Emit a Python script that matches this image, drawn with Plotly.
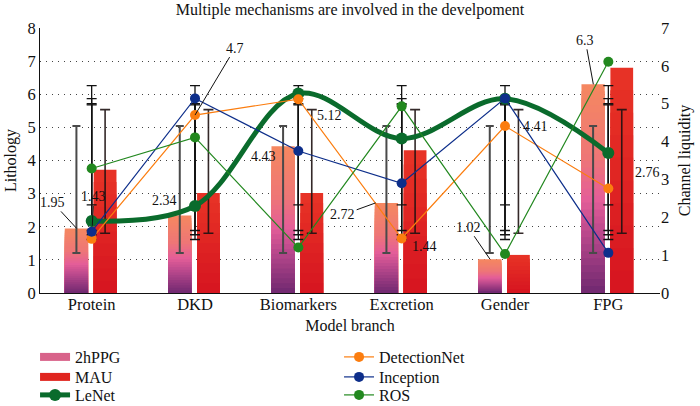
import numpy as np
import plotly.graph_objects as go

# ---------------- data ----------------
categories = ["Protein", "DKD", "Biomarkers", "Excretion", "Gender", "FPG"]
ppg2h = [1.95, 2.34, 4.43, 2.72, 1.02, 6.3]          # bars, left axis
mau = [3.72, 3.02, 3.02, 4.31, 1.15, 6.8]             # bars, left axis
lenet = [1.9, 2.3, 5.27, 4.08, 5.13, 3.7]             # right axis
detectionnet = [1.43, 4.7, 5.12, 1.44, 4.41, 2.76]    # right axis
inception = [1.62, 5.14, 3.75, 2.9, 5.14, 1.06]       # right axis
ros = [3.29, 4.11, 1.2, 4.93, 1.03, 6.11]             # right axis
left_ticks = [0, 1, 2, 3, 4, 5, 6, 7, 8]
right_ticks = [0, 1, 2, 3, 4, 5, 6, 7]

FONT = "Liberation Serif"


def mean_sd(v):
    a = np.asarray(v, dtype=float)
    return float(a.mean()), float(a.std(ddof=1))


def lerp_color(stops, t):
    for (t0, c0), (t1, c1) in zip(stops[:-1], stops[1:]):
        if t0 <= t <= t1:
            f = (t - t0) / (t1 - t0) if t1 > t0 else 0
            c = [round(c0[k] + (c1[k] - c0[k]) * f) for k in range(3)]
            return "rgb(%d,%d,%d)" % tuple(c)
    c = stops[-1][1]
    return "rgb(%d,%d,%d)" % tuple(c)


ppg_stops = [(0.0, (112, 40, 112)), (0.28, (185, 72, 140)), (0.45, (228, 94, 152)),
             (0.65, (238, 118, 118)), (1.0, (245, 136, 96))]
mau_stops = [(0.0, (214, 20, 32)), (1.0, (232, 52, 38))]

PPG_OFF, PPG_W = -0.26, 0.225
MAU_OFF, MAU_W = 0.02, 0.22

fig = go.Figure()

# gradient bars: layered from tallest (top colour) to shortest
K = 30
for j in range(K):
    frac = (K - j) / K
    fig.add_trace(go.Bar(
        x=categories, y=[v * frac for v in ppg2h], offset=PPG_OFF, width=PPG_W,
        marker=dict(color=lerp_color(ppg_stops, frac - 0.5 / K), line=dict(width=0)),
        showlegend=False, hoverinfo="skip"))
K2 = 10
for j in range(K2):
    frac = (K2 - j) / K2
    fig.add_trace(go.Bar(
        x=categories, y=[v * frac for v in mau], offset=MAU_OFF, width=MAU_W,
        marker=dict(color=lerp_color(mau_stops, frac - 0.5 / K2), line=dict(width=0)),
        showlegend=False, hoverinfo="skip"))

# error bars of the bar series (mean +/- sd, at bar centres)
m, s = mean_sd(ppg2h)
fig.add_trace(go.Bar(
    x=categories, y=[m] * len(categories), offset=PPG_OFF, width=PPG_W,
    marker=dict(color="rgba(0,0,0,0)", line=dict(width=0)),
    error_y=dict(type="data", array=[s] * len(categories), color="#4a4a4a", thickness=2, width=4),
    showlegend=False, hoverinfo="skip"))
m, s = mean_sd(mau)
fig.add_trace(go.Bar(
    x=categories, y=[m] * len(categories), offset=MAU_OFF, width=MAU_W,
    marker=dict(color="rgba(0,0,0,0)", line=dict(width=0)),
    error_y=dict(type="data", array=[s] * len(categories), color="rgba(30,18,18,0.9)", thickness=1.6, width=5),
    showlegend=False, hoverinfo="skip"))

# error bars of the line series (right axis)
for series in (lenet, detectionnet, inception, ros):
    m, s = mean_sd(series)
    fig.add_trace(go.Scatter(
        x=categories, y=[m] * len(categories), yaxis="y2", mode="markers",
        marker=dict(size=1, color="rgba(0,0,0,0)"),
        error_y=dict(type="data", array=[s] * len(categories), color="#111111", thickness=1.3, width=5),
        showlegend=False, hoverinfo="skip"))

# lines
fig.add_trace(go.Scatter(
    x=categories, y=lenet, yaxis="y2", name="LeNet", mode="lines+markers",
    line=dict(color="#0a6b2c", width=5, shape="spline", smoothing=1.0),
    marker=dict(color="#0a6b2c", size=12), legend="legend3", legendrank=1))
fig.add_trace(go.Scatter(
    x=categories, y=detectionnet, yaxis="y2", name="DetectionNet", mode="lines+markers",
    line=dict(color="#fb7d0f", width=1.2), marker=dict(color="#fb7d0f", size=10),
    legend="legend", legendrank=2))
fig.add_trace(go.Scatter(
    x=categories, y=inception, yaxis="y2", name="Inception", mode="lines+markers",
    line=dict(color="#0d2e8a", width=1.2), marker=dict(color="#0d2e8a", size=10),
    legend="legend2", legendrank=2))
fig.add_trace(go.Scatter(
    x=categories, y=ros, yaxis="y2", name="ROS", mode="lines+markers",
    line=dict(color="#22881f", width=1.2), marker=dict(color="#22881f", size=10),
    legend="legend3", legendrank=2))

# legend swatches for the bar series
fig.add_trace(go.Scatter(x=[None], y=[None], name="2hPPG", mode="lines",
                         line=dict(color="#d8638a", width=8), legend="legend", legendrank=1))
fig.add_trace(go.Scatter(x=[None], y=[None], name="MAU", mode="lines",
                         line=dict(color="#e0251f", width=8), legend="legend2", legendrank=1))

# value labels
ann = []
def add_label(text, x, y, yref, xshift=0, ax=None, ay=None, yshift=0, standoff=0):
    d = dict(x=x, y=y, xref="x", yref=yref, text=text, xshift=xshift, yshift=yshift,
             font=dict(family=FONT, size=14, color="#111111"))
    if ax is None:
        d.update(showarrow=False)
    else:
        d.update(showarrow=True, arrowhead=0, arrowwidth=1, arrowcolor="#111111",
                 ax=ax, ay=ay, standoff=standoff)
    ann.append(d)

c = categories
add_label(f"{ppg2h[0]:g}", c[0], ppg2h[0], "y", xshift=-15, ax=-24, ay=-26)
add_label(f"{ppg2h[1]:g}", c[1], ppg2h[1], "y", xshift=-31, yshift=15)
add_label(f"{ppg2h[2]:g}", c[2], ppg2h[2], "y", xshift=-35, yshift=-10)
add_label(f"{ppg2h[3]:g}", c[3], ppg2h[3], "y", xshift=-26, ax=-33, ay=12)
add_label(f"{ppg2h[4]:g}", c[4], ppg2h[4], "y", xshift=-15, ax=-22, ay=-32)
add_label(f"{ppg2h[5]:g}", c[5], ppg2h[5], "y", xshift=-15, ax=-8, ay=-44)
add_label(f"{detectionnet[0]:g}", c[0], detectionnet[0], "y2", ax=2, ay=-42, standoff=13)
add_label(f"{detectionnet[1]:g}", c[1], detectionnet[1], "y2", ax=40, ay=-67)
add_label(f"{detectionnet[2]:g}", c[2], detectionnet[2], "y2", xshift=31, yshift=-16)
add_label(f"{detectionnet[3]:g}", c[3], detectionnet[3], "y2", xshift=23, yshift=-8)
add_label(f"{detectionnet[4]:g}", c[4], detectionnet[4], "y2", xshift=30, yshift=0)
add_label(f"{detectionnet[5]:g}", c[5], detectionnet[5], "y2", xshift=39, yshift=16)

legend_style = dict(orientation="h", x=-0.008, xanchor="left", yanchor="middle",
                    entrywidth=259, entrywidthmode="pixels",
                    font=dict(family=FONT, size=16), bgcolor="rgba(0,0,0,0)",
                    itemsizing="trace", tracegroupgap=0)

fig.update_layout(
    width=700, height=406,
    margin=dict(l=40, r=40, t=28, b=113, autoexpand=False),
    paper_bgcolor="white", plot_bgcolor="white",
    barmode="overlay",
    font=dict(family=FONT, size=16, color="#111111"),
    title=dict(text="Multiple mechanisms are involved in the develpoment",
               x=0.5, xref="paper", xanchor="center", y=1 - 9 / 406, yanchor="middle",
               font=dict(family=FONT, size=16, color="#111111")),
    xaxis=dict(type="category", categoryorder="array", categoryarray=categories,
               range=[-0.5, 5.5], showline=True, linecolor="#111111", linewidth=1,
               ticks="", showgrid=False, zeroline=False, automargin=False,
               ticklabelstandoff=-4,
               tickfont=dict(family=FONT, size=16.5),
               title=dict(text="Model branch", font=dict(family=FONT, size=16), standoff=7)),
    yaxis=dict(range=[0, 8], tickvals=left_ticks, showline=True, linecolor="#111111",
               linewidth=1, ticks="", zeroline=False, showgrid=True, automargin=False,
               gridcolor="#444444", gridwidth=1, griddash="1px,5px",
               tickfont=dict(family=FONT, size=16.5),
               title=dict(text="Lithology", font=dict(family=FONT, size=16), standoff=6)),
    yaxis2=dict(range=[0, 7], tickvals=right_ticks, overlaying="y", side="right",
                showline=False, ticks="", zeroline=False, showgrid=False, automargin=False,
                tickfont=dict(family=FONT, size=16.5),
                title=dict(text="Channel liquidity", font=dict(family=FONT, size=16), standoff=10)),
    legend=dict(y=(293 - 357) / 265, **legend_style),
    legend2=dict(y=(293 - 377) / 265, **legend_style),
    legend3=dict(y=(293 - 395) / 265, **legend_style),
    annotations=ann,
    showlegend=True,
)

fig.write_html("out.html", config={"displayModeBar": False},
               post_script="document.body.style.margin='0px';document.body.style.overflow='hidden';")
